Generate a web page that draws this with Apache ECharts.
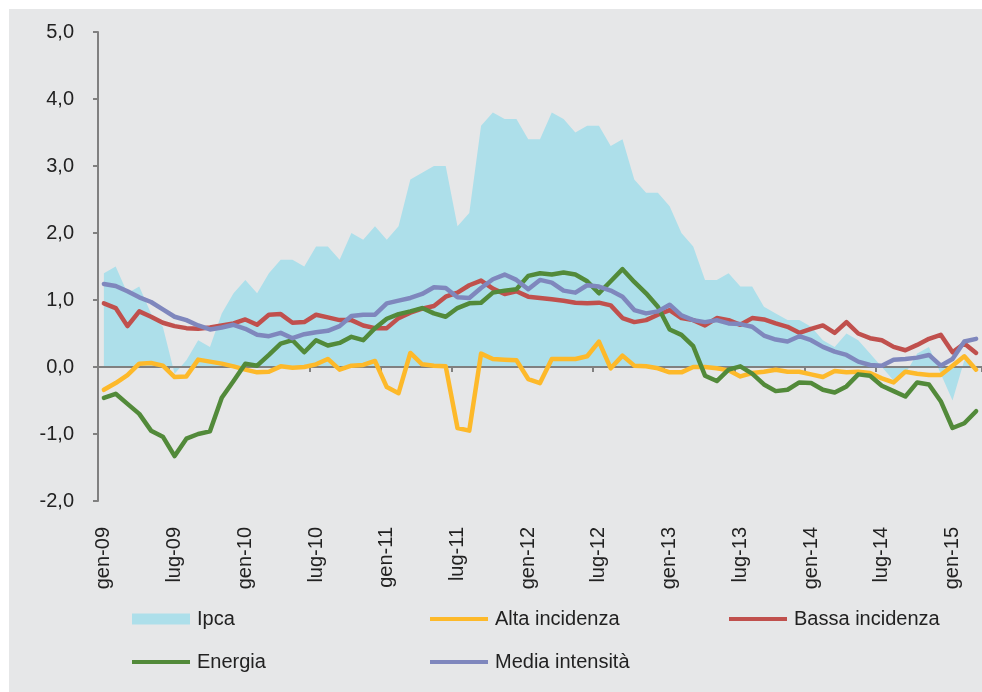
<!DOCTYPE html>
<html>
<head>
<meta charset="utf-8">
<script src="https://cdn.jsdelivr.net/npm/echarts@6/dist/echarts.min.js"></script>
<style>
    html, body { margin: 0; padding: 0; background: #ffffff; }
    #chart {
        position: absolute;
        left: 9px;
        top: 9px;
        width: 973px;
        height: 683px;
        background: #e6e7e8;
    }
</style>
</head>
<body>
<div id="chart"></div>
<script>
// Data
// ------------------------------

// Month names (Italian) and years, gen-09 .. mar-15
var monthNames = ['gen', 'feb', 'mar', 'apr', 'mag', 'giu', 'lug', 'ago', 'set', 'ott', 'nov', 'dic'];
var years = ['09', '10', '11', '12', '13', '14', '15'];
var monthCount = 75;

var categories = [];
for (var k = 0; k < monthCount; k++) {
    categories.push(monthNames[k % 12] + '-' + years[Math.floor(k / 12)]);
}

var ipca = [
    1.4, 1.5, 1.1, 1.2, 0.8, 0.6, -0.1, 0.1, 0.4, 0.3, 0.8, 1.1,
    1.3, 1.1, 1.4, 1.6, 1.6, 1.5, 1.8, 1.8, 1.6, 2.0, 1.9, 2.1,
    1.9, 2.1, 2.8, 2.9, 3.0, 3.0, 2.1, 2.3, 3.6, 3.8, 3.7, 3.7,
    3.4, 3.4, 3.8, 3.7, 3.5, 3.6, 3.6, 3.3, 3.4, 2.8, 2.6, 2.6,
    2.4, 2.0, 1.8, 1.3, 1.3, 1.4, 1.2, 1.2, 0.9, 0.8, 0.7, 0.7,
    0.6, 0.4, 0.3, 0.5, 0.4, 0.2, 0.0, -0.2, -0.1, 0.2, 0.3, -0.1,
    -0.5, 0.1, 0.0
];

var altaIncidenza = [
    -0.34, -0.24, -0.12, 0.05, 0.06, 0.02, -0.15, -0.14, 0.11, 0.08, 0.05, 0.01,
    -0.04, -0.08, -0.07, 0.01, -0.01, 0.00, 0.04, 0.12, -0.04, 0.02, 0.03, 0.09,
    -0.30, -0.39, 0.21, 0.04, 0.02, 0.01, -0.91, -0.95, 0.20, 0.12, 0.11, 0.10,
    -0.18, -0.24, 0.12, 0.12, 0.12, 0.16, 0.38, -0.02, 0.17, 0.02, 0.01, -0.02,
    -0.08, -0.08, 0.00, 0.00, -0.02, -0.05, -0.14, -0.09, -0.07, -0.04, -0.07, -0.07,
    -0.11, -0.15, -0.06, -0.08, -0.07, -0.09, -0.17, -0.23, -0.07, -0.10, -0.12, -0.12,
    0.02, 0.16, -0.04
];

var bassaIncidenza = [
    0.95, 0.88, 0.61, 0.83, 0.75, 0.66, 0.61, 0.58, 0.57, 0.59, 0.62, 0.65,
    0.71, 0.63, 0.78, 0.79, 0.66, 0.67, 0.78, 0.74, 0.70, 0.70, 0.62, 0.58,
    0.58, 0.73, 0.81, 0.87, 0.91, 1.05, 1.11, 1.22, 1.29, 1.17, 1.09, 1.13,
    1.05, 1.03, 1.01, 0.99, 0.96, 0.95, 0.96, 0.92, 0.73, 0.67, 0.70, 0.78,
    0.85, 0.73, 0.70, 0.62, 0.73, 0.70, 0.63, 0.73, 0.71, 0.65, 0.60, 0.51,
    0.57, 0.62, 0.51, 0.67, 0.50, 0.43, 0.40, 0.30, 0.25, 0.33, 0.42, 0.48,
    0.22, 0.35, 0.21
];

var energia = [
    -0.46, -0.40, -0.55, -0.70, -0.95, -1.04, -1.33, -1.07, -1.00, -0.96, -0.46, -0.21,
    0.05, 0.02, 0.18, 0.35, 0.40, 0.22, 0.40, 0.32, 0.36, 0.45, 0.40, 0.58,
    0.72, 0.79, 0.83, 0.88, 0.80, 0.75, 0.88, 0.95, 0.96, 1.11, 1.14, 1.16,
    1.36, 1.40, 1.38, 1.41, 1.38, 1.28, 1.10, 1.28, 1.46, 1.27, 1.10, 0.90,
    0.56, 0.48, 0.31, -0.13, -0.21, -0.04, 0.01, -0.10, -0.26, -0.36, -0.34, -0.23,
    -0.24, -0.34, -0.38, -0.29, -0.11, -0.13, -0.28, -0.36, -0.44, -0.23, -0.26, -0.51,
    -0.91, -0.84, -0.66
];

var mediaIntensita = [
    1.24, 1.21, 1.13, 1.04, 0.97, 0.86, 0.75, 0.70, 0.62, 0.56, 0.59, 0.63,
    0.57, 0.48, 0.46, 0.51, 0.43, 0.49, 0.52, 0.54, 0.61, 0.76, 0.78, 0.78,
    0.95, 0.99, 1.03, 1.09, 1.19, 1.18, 1.04, 1.03, 1.18, 1.31, 1.38, 1.30,
    1.16, 1.30, 1.26, 1.14, 1.11, 1.22, 1.20, 1.14, 1.05, 0.85, 0.80, 0.83,
    0.93, 0.77, 0.70, 0.67, 0.70, 0.65, 0.64, 0.60, 0.47, 0.41, 0.38, 0.46,
    0.40, 0.30, 0.23, 0.18, 0.08, 0.03, 0.02, 0.11, 0.12, 0.14, 0.18, 0.02,
    0.12, 0.38, 0.42
];


// Chart
// ------------------------------

var fontFamily = '"Liberation Sans", Arial, sans-serif';
var fontSize = 20;
var axisGray = '#808080';
var textColor = '#222222';

var chart_element = document.getElementById('chart');
var chart = echarts.init(chart_element, null, { renderer: 'canvas' });

// Legend helper: one legend component per item, placed like the original
var legendItem = function(name, left, top, iconHeight) {
    return {
        data: [name],
        left: left,
        top: top,
        icon: 'rect',
        itemWidth: 58,
        itemHeight: iconHeight,
        padding: 0,
        selectedMode: false,
        textStyle: {
            fontFamily: fontFamily,
            fontSize: fontSize,
            color: textColor,
            padding: [0, 0, 0, 2]
        }
    };
};

// Line series helper
var lineSeries = function(name, data, color) {
    return {
        name: name,
        type: 'line',
        data: data,
        z: 4,
        symbol: 'none',
        color: color,
        itemStyle: { color: color },
        lineStyle: {
            color: color,
            width: 4.5,
            join: 'round',
            cap: 'round'
        }
    };
};

chart.setOption({
    animation: false,
    backgroundColor: 'transparent',

    textStyle: {
        fontFamily: fontFamily,
        fontSize: fontSize,
        color: textColor
    },

    grid: {
        left: 89,
        right: 0,
        top: 23,
        bottom: 191,
        outerBoundsMode: 'none',
        containLabel: false
    },

    legend: [
        legendItem('Ipca', 123, 600, 11),
        legendItem('Alta incidenza', 421, 600, 4),
        legendItem('Bassa incidenza', 720, 600, 4),
        legendItem('Energia', 123, 643, 4),
        legendItem('Media intensità', 421, 643, 4)
    ],

    xAxis: [
        // Bottom labels
        {
            type: 'category',
            data: categories,
            boundaryGap: true,
            position: 'bottom',
            axisLine: { show: false, onZero: false },
            axisTick: { show: false },
            splitLine: { show: false },
            axisLabel: {
                interval: 5,
                rotate: 90,
                margin: 26,
                fontFamily: fontFamily,
                fontSize: fontSize,
                color: textColor
            }
        },
        // Zero line with ticks
        {
            type: 'category',
            data: categories,
            boundaryGap: true,
            position: 'bottom',
            z: 3,
            axisLine: {
                show: true,
                onZero: true,
                lineStyle: { color: axisGray, width: 2 }
            },
            axisTick: {
                show: true,
                interval: 5,
                length: 5,
                lineStyle: { color: axisGray, width: 2 }
            },
            axisLabel: { show: false },
            splitLine: { show: false }
        }
    ],

    yAxis: {
        type: 'value',
        min: -2,
        max: 5,
        interval: 1,
        axisLine: {
            show: true,
            lineStyle: { color: axisGray, width: 2 }
        },
        axisTick: {
            show: true,
            length: 5,
            lineStyle: { color: axisGray, width: 2 }
        },
        splitLine: { show: false },
        axisLabel: {
            margin: 24,
            fontFamily: fontFamily,
            fontSize: fontSize,
            color: textColor,
            formatter: function(value) {
                return value.toFixed(1).replace('.', ',');
            }
        }
    },

    series: [
        {
            name: 'Ipca',
            type: 'line',
            data: ipca,
            z: 1,
            symbol: 'none',
            color: '#addfea',
            itemStyle: { color: '#addfea' },
            lineStyle: { width: 0, color: '#addfea' },
            areaStyle: { color: '#addfea', opacity: 1 }
        },
        lineSeries('Alta incidenza', altaIncidenza, '#fdb92a'),
        lineSeries('Bassa incidenza', bassaIncidenza, '#c0504d'),
        lineSeries('Energia', energia, '#528a3a'),
        lineSeries('Media intensità', mediaIntensita, '#7f87bd')
    ]
});
</script>
</body>
</html>
